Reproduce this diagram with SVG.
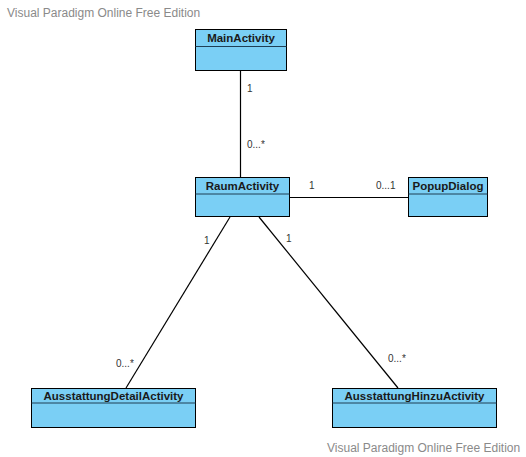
<svg xmlns="http://www.w3.org/2000/svg" width="526" height="457" viewBox="0 0 526 457">
<style>
.box{fill:#7acff5;stroke:#000;stroke-width:1}
.div{stroke:#1f3f55;stroke-width:1}
.title{font-family:"Liberation Sans",Arial,sans-serif;font-size:11.5px;font-weight:bold;fill:#1a1a1a;text-anchor:middle}
.lbl{font-family:"Liberation Sans",Arial,sans-serif;font-size:10px;fill:#333}
.wm{font-family:"Liberation Sans",Arial,sans-serif;font-size:12px;fill:#8a8a8a}
.conn line{stroke:#000;stroke-width:1.2}
</style>
<rect width="526" height="457" fill="#fff"/>
<text class="wm" x="7" y="17">Visual Paradigm Online Free Edition</text>
<text class="wm" x="327" y="452">Visual Paradigm Online Free Edition</text>
<g id="connectors" class="conn">
<line x1="240.5" y1="70" x2="240.5" y2="177"/>
<line x1="289" y1="197.5" x2="408" y2="197.5"/>
<line x1="230" y1="217" x2="126" y2="388"/>
<line x1="259" y1="217" x2="398" y2="388"/>
</g>
<g id="labels">
<text class="lbl" x="247" y="92">1</text>
<text class="lbl" x="247" y="148">0...*</text>
<text class="lbl" x="309" y="189">1</text>
<text class="lbl" x="376" y="189">0...1</text>
<text class="lbl" x="204" y="244">1</text>
<text class="lbl" x="286" y="242">1</text>
<text class="lbl" x="116" y="367">0...*</text>
<text class="lbl" x="388" y="362">0...*</text>
</g>
<g id="MainActivity">
<rect class="box" x="195.5" y="29.5" width="91" height="41"/>
<line class="div" x1="195.5" y1="46.5" x2="286.5" y2="46.5"/>
<text class="title" x="241" y="42">MainActivity</text>
</g>
<g id="RaumActivity">
<rect class="box" x="195.5" y="177.5" width="94" height="39"/>
<line class="div" x1="195.5" y1="194" x2="289.5" y2="194"/>
<text class="title" x="242.5" y="190">RaumActivity</text>
</g>
<g id="PopupDialog">
<rect class="box" x="408.5" y="177.5" width="79" height="39"/>
<line class="div" x1="408.5" y1="194" x2="487.5" y2="194"/>
<text class="title" x="448" y="190">PopupDialog</text>
</g>
<g id="AusstattungDetailActivity">
<rect class="box" x="31.5" y="388.5" width="164" height="39"/>
<line class="div" x1="31.5" y1="403" x2="195.5" y2="403"/>
<text class="title" x="113.5" y="399.5">AusstattungDetailActivity</text>
</g>
<g id="AusstattungHinzuActivity">
<rect class="box" x="332.5" y="388.5" width="164" height="39"/>
<line class="div" x1="332.5" y1="403" x2="496.5" y2="403"/>
<text class="title" x="414.5" y="399.5">AusstattungHinzuActivity</text>
</g>
</svg>
